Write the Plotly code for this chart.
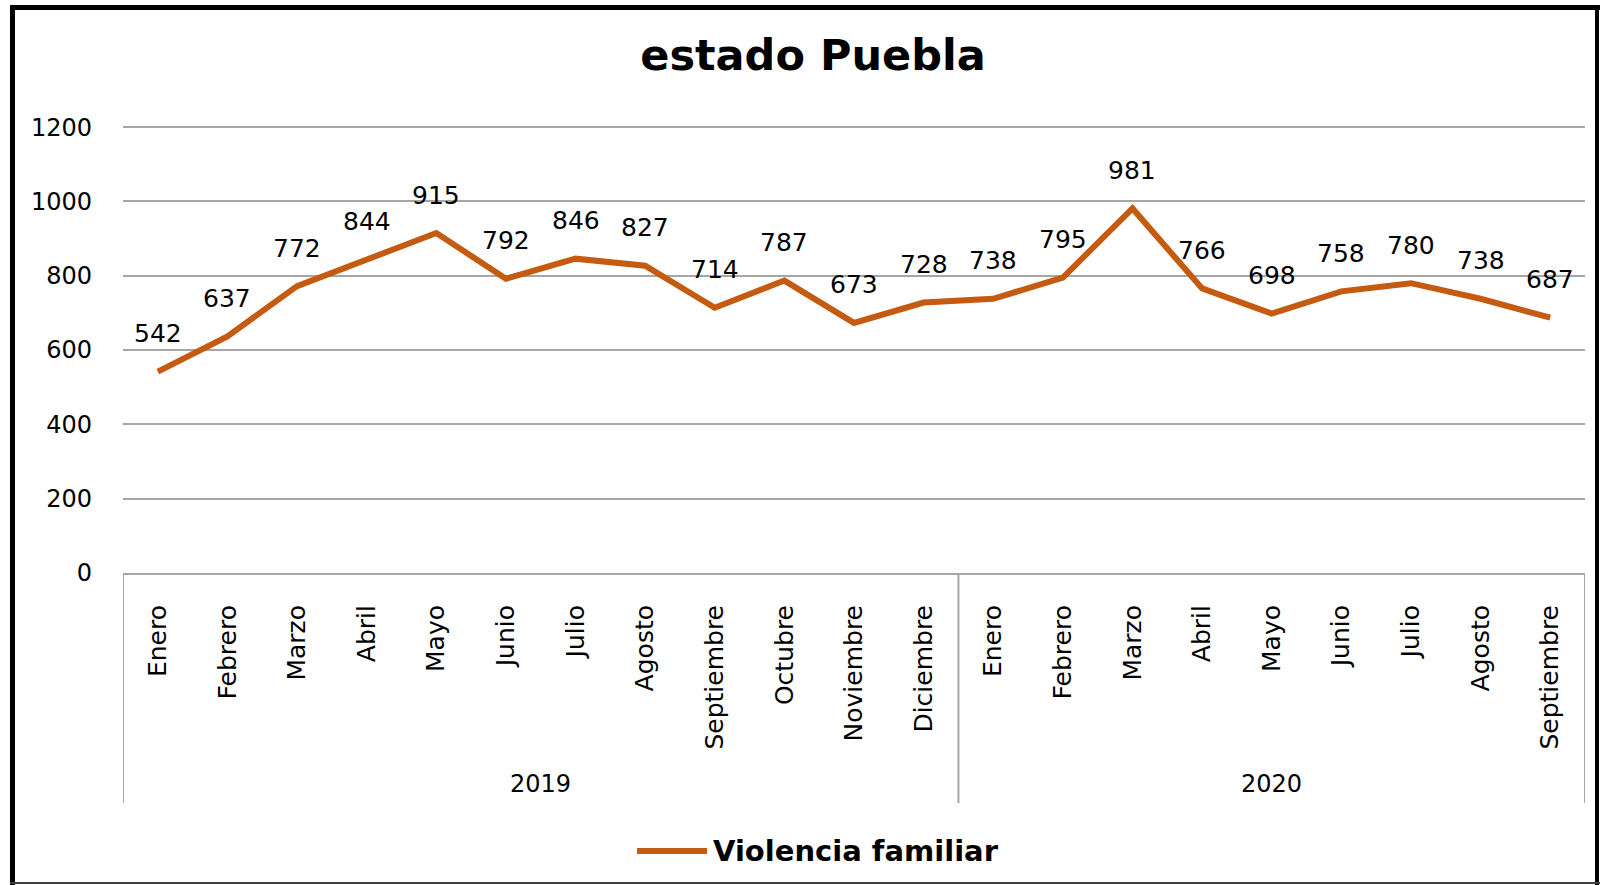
import plotly.graph_objects as go

# datos
years = ["2019", "2020"]
months_2019 = ["Enero", "Febrero", "Marzo", "Abril", "Mayo", "Junio", "Julio",
               "Agosto", "Septiembre", "Octubre", "Noviembre", "Diciembre"]
months_2020 = ["Enero", "Febrero", "Marzo", "Abril", "Mayo", "Junio", "Julio",
               "Agosto", "Septiembre"]
values_2019 = [542, 637, 772, 844, 915, 792, 846, 827, 714, 787, 673, 728]
values_2020 = [738, 795, 981, 766, 698, 758, 780, 738, 687]
series_name = "Violencia familiar"

months = months_2019 + months_2020
values = values_2019 + values_2020
x = list(range(len(values)))

line_color = "#C55A11"
grid_color = "#A6A6A6"
font_name = "DejaVu Sans"

W, H = 1600, 885
ml, mr, mt, mb = 123, 15, 126, 312
pw, ph = W - ml - mr, H - mt - mb


def px_x(p):
    return (p - ml) / pw


def px_y(p):
    return (H - mb - p) / ph


fig = go.Figure()
fig.add_trace(go.Scatter(
    x=x, y=values, mode="lines", name=series_name,
    line=dict(color=line_color, width=6),
    hoverinfo="skip", showlegend=False,
))

annotations = []
for xi, v in zip(x, values):
    annotations.append(dict(
        x=xi, y=v, xref="x", yref="y", text=str(v), showarrow=False,
        yshift=38, yanchor="middle",
        font=dict(family=font_name, size=25, color="#000000"),
    ))

# etiquetas de año y divisores de grupo
sizes = [len(months_2019), len(months_2020)]
shapes = []
start = 0
for yr, n in zip(years, sizes):
    annotations.append(dict(
        x=start + (n - 1) / 2, y=px_y(784), xref="x", yref="paper",
        text=yr, showarrow=False, yanchor="middle",
        font=dict(family=font_name, size=24, color="#000000"),
    ))
    shapes.append(dict(type="line", xref="x", yref="paper",
                       x0=start - 0.5, x1=start - 0.5, y0=0, y1=px_y(803),
                       line=dict(color=grid_color, width=2)))
    start += n
shapes.append(dict(type="line", xref="x", yref="paper",
                   x0=start - 0.5, x1=start - 0.5, y0=0, y1=px_y(803),
                   line=dict(color=grid_color, width=2)))

# leyenda
shapes.append(dict(type="line", xref="paper", yref="paper",
                   x0=px_x(637), x1=px_x(707), y0=px_y(851), y1=px_y(851),
                   line=dict(color=line_color, width=6)))
annotations.append(dict(
    x=px_x(711), y=px_y(851), xref="paper", yref="paper",
    text="<b>" + series_name + "</b>", showarrow=False,
    xanchor="left", yanchor="middle",
    font=dict(family=font_name, size=29, color="#000000"),
))

# marco del gráfico
shapes += [
    dict(type="line", xref="paper", yref="paper", x0=px_x(12.5), x1=px_x(12.5),
         y0=px_y(5), y1=px_y(885), line=dict(color="black", width=5)),
    dict(type="line", xref="paper", yref="paper", x0=px_x(10), x1=px_x(1600),
         y0=px_y(7.5), y1=px_y(7.5), line=dict(color="black", width=5)),
    dict(type="line", xref="paper", yref="paper", x0=px_x(1597), x1=px_x(1597),
         y0=px_y(5), y1=px_y(885), line=dict(color="black", width=4)),
    dict(type="line", xref="paper", yref="paper", x0=px_x(10), x1=px_x(1600),
         y0=px_y(883), y1=px_y(883), line=dict(color="#404040", width=2)),
]

fig.update_layout(
    width=W, height=H,
    margin=dict(l=ml, r=mr, t=mt, b=mb),
    paper_bgcolor="white", plot_bgcolor="white",
    title=dict(text="<b>estado Puebla</b>", x=813 / W, xanchor="center",
               y=1 - 55 / H, yanchor="middle",
               font=dict(family=font_name, size=43, color="#000000")),
    showlegend=False,
    annotations=annotations,
    shapes=shapes,
)

fig.update_xaxes(
    range=[-0.5, len(values) - 0.5],
    tickvals=x, ticktext=months, tickangle=-90,
    tickfont=dict(family=font_name, size=25, color="#000000"),
    ticks="", ticklabelstandoff=20,
    showgrid=False, zeroline=False,
    showline=True, linecolor=grid_color, linewidth=2,
)
fig.update_yaxes(
    range=[0, 1203], dtick=200,
    tickfont=dict(family=font_name, size=24, color="#000000"),
    ticks="", ticklabelstandoff=30,
    showgrid=True, gridcolor=grid_color, gridwidth=2,
    zeroline=False, showline=False,
)

fig.write_html("out.html", config={"displayModeBar": False},
               post_script="document.body.style.margin='0';")
